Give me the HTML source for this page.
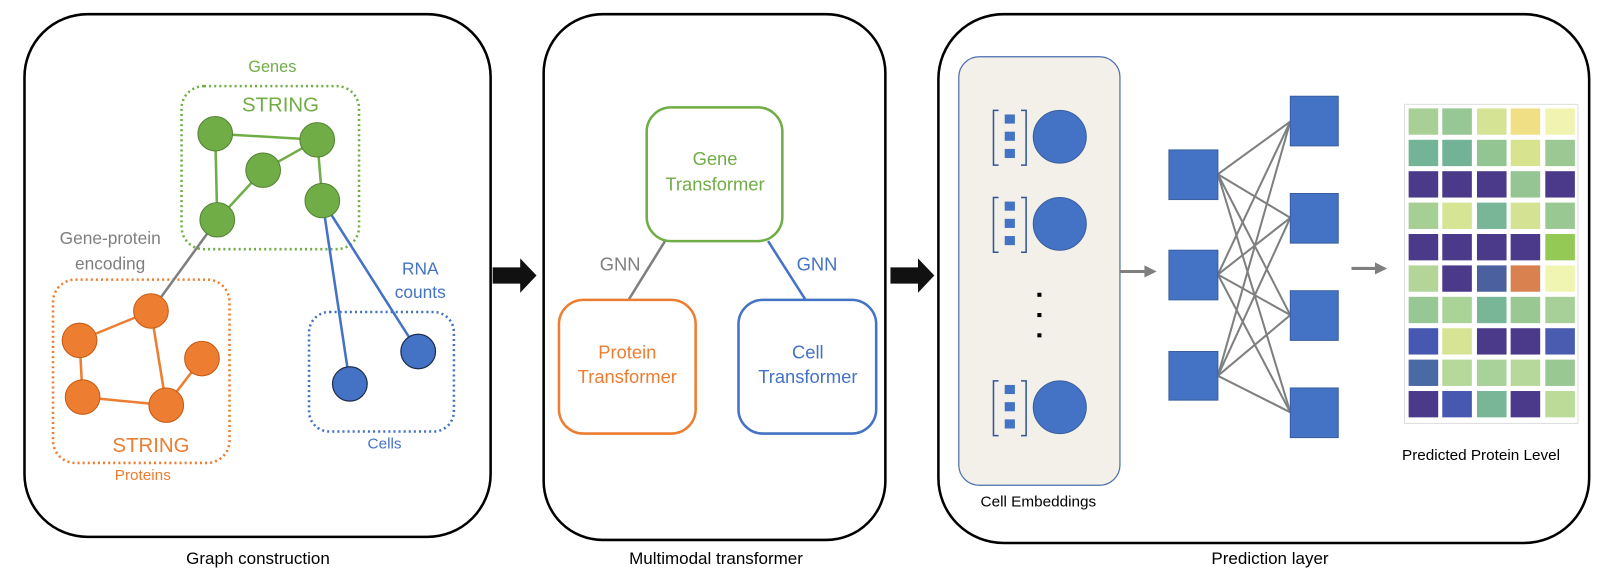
<!DOCTYPE html>
<html><head><meta charset="utf-8"><style>
html,body{margin:0;padding:0;background:#fff;}
svg{display:block;font-family:"Liberation Sans",Arial,sans-serif;}
</style></head><body>
<svg width="1600" height="568" viewBox="0 0 1600 568" xmlns="http://www.w3.org/2000/svg">
<g font-size="17" fill="#000" text-anchor="middle">
<text x="258" y="564">Graph construction</text>
<text x="716" y="564">Multimodal transformer</text>
<text x="1270" y="564">Prediction layer</text>
</g>
<g transform="scale(1.02,1.013)">
<!-- Panels -->
<rect x="24" y="14" width="457" height="516" rx="62" fill="none" stroke="#000" stroke-width="2.5"/>
<rect x="533" y="14" width="335" height="519" rx="58" fill="none" stroke="#000" stroke-width="2.5"/>
<rect x="920" y="14" width="638" height="522" rx="64" fill="none" stroke="#000" stroke-width="2.5"/>
<!-- black arrows -->
<polygon points="483,264 510,264 510,255 526,272 510,289 510,280 483,280" fill="#111"/>
<polygon points="873,264 900,264 900,255 916,272 900,289 900,280 873,280" fill="#111"/>

<!-- Panel 1 -->
<rect x="178" y="85" width="174" height="161" rx="22" fill="none" stroke="#70ad47" stroke-width="2.5" stroke-dasharray="2,3"/>
<rect x="52" y="276" width="173" height="181" rx="22" fill="none" stroke="#ed7d31" stroke-width="2.5" stroke-dasharray="2,3"/>
<rect x="303" y="308" width="142" height="118" rx="20" fill="none" stroke="#4472c4" stroke-width="2.5" stroke-dasharray="2,3"/>
<g stroke="#70ad47" stroke-width="2.5">
<line x1="211" y1="132" x2="311" y2="138"/><line x1="211" y1="132" x2="213" y2="217"/>
<line x1="213" y1="217" x2="258" y2="168"/><line x1="258" y1="168" x2="311" y2="138"/>
<line x1="311" y1="138" x2="316" y2="198"/>
</g>
<g stroke="#ed7d31" stroke-width="2.5">
<line x1="148" y1="307" x2="78" y2="336"/><line x1="78" y1="336" x2="81" y2="392"/>
<line x1="81" y1="392" x2="163" y2="400"/><line x1="148" y1="307" x2="163" y2="400"/>
<line x1="163" y1="400" x2="198" y2="354"/>
</g>
<line x1="213" y1="217" x2="148" y2="307" stroke="#7f7f7f" stroke-width="2.5"/>
<g stroke="#4472c4" stroke-width="2.5">
<line x1="316" y1="198" x2="343" y2="379"/><line x1="316" y1="198" x2="410" y2="347"/>
</g>
<g fill="#70ad47" stroke="#548235" stroke-width="1">
<circle cx="211" cy="132" r="17"/><circle cx="311" cy="138" r="17"/><circle cx="258" cy="168" r="17"/>
<circle cx="213" cy="217" r="17"/><circle cx="316" cy="198" r="17"/>
</g>
<g fill="#ed7d31" stroke="#c55a11" stroke-width="1">
<circle cx="148" cy="307" r="17"/><circle cx="78" cy="336" r="17"/><circle cx="198" cy="354" r="17"/>
<circle cx="81" cy="392" r="17"/><circle cx="163" cy="400" r="17"/>
</g>
<g fill="#4472c4" stroke="#1f2d4d" stroke-width="1.2">
<circle cx="343" cy="379" r="17"/><circle cx="410" cy="347" r="17"/>
</g>
<g text-anchor="middle">
<text x="267" y="71" font-size="16" fill="#70ad47">Genes</text>
<text x="275" y="110" font-size="20" fill="#70ad47">STRING</text>
<text x="108" y="241" font-size="17" fill="#7f7f7f">Gene-protein</text>
<text x="108" y="266" font-size="17" fill="#7f7f7f">encoding</text>
<text x="412" y="271" font-size="17" fill="#4472c4">RNA</text>
<text x="412" y="294" font-size="17" fill="#4472c4">counts</text>
<text x="148" y="446" font-size="20" fill="#ed7d31">STRING</text>
<text x="140" y="474" font-size="15" fill="#ed7d31">Proteins</text>
<text x="377" y="443" font-size="15" fill="#4472c4">Cells</text>
</g>

<!-- Panel 2 -->
<line x1="652" y1="238" x2="615" y2="298" stroke="#7f7f7f" stroke-width="2.5"/>
<line x1="753" y1="238" x2="791" y2="298" stroke="#4472c4" stroke-width="2.5"/>
<rect x="634" y="106" width="133" height="132" rx="24" fill="#fff" stroke="#70ad47" stroke-width="2.5"/>
<rect x="548" y="296" width="134" height="132" rx="24" fill="#fff" stroke="#ed7d31" stroke-width="2.5"/>
<rect x="724" y="296" width="135" height="132" rx="24" fill="#fff" stroke="#4472c4" stroke-width="2.5"/>
<g text-anchor="middle" font-size="18">
<text x="701" y="163" fill="#70ad47">Gene</text>
<text x="701" y="188" fill="#70ad47">Transformer</text>
<text x="615" y="354" fill="#ed7d31">Protein</text>
<text x="615" y="378" fill="#ed7d31">Transformer</text>
<text x="792" y="354" fill="#4472c4">Cell</text>
<text x="792" y="378" fill="#4472c4">Transformer</text>
<text x="608" y="267" fill="#7f7f7f">GNN</text>
<text x="801" y="267" fill="#4472c4">GNN</text>
</g>

<!-- Panel 3 -->
<rect x="940" y="56" width="158" height="423" rx="20" fill="#f3f0ea" stroke="#4a6fb0" stroke-width="1.2"/>
<g fill="#4472c4" stroke="#3a5f9f" stroke-width="1">
<circle cx="1039" cy="135" r="26"/><circle cx="1039" cy="221" r="26"/><circle cx="1039" cy="402" r="26"/>
</g>
<g fill="none" stroke="#2f5597" stroke-width="1.5">
<path d="M979,109 H974 V163 H979 M1001,109 H1006 V163 H1001"/>
<path d="M979,195 H974 V249 H979 M1001,195 H1006 V249 H1001"/>
<path d="M979,376 H974 V430 H979 M1001,376 H1006 V430 H1001"/>
</g>
<g fill="#4472c4">
<rect x="985" y="113" width="10" height="9"/><rect x="985" y="130" width="10" height="9"/><rect x="985" y="147" width="10" height="9"/>
<rect x="985" y="199" width="10" height="9"/><rect x="985" y="216" width="10" height="9"/><rect x="985" y="233" width="10" height="9"/>
<rect x="985" y="380" width="10" height="9"/><rect x="985" y="397" width="10" height="9"/><rect x="985" y="414" width="10" height="9"/>
</g>
<g fill="#000"><rect x="1017" y="289" width="4" height="4"/><rect x="1017" y="309" width="4" height="4"/><rect x="1017" y="329" width="4" height="4"/></g>
<text x="1018" y="500" font-size="15" text-anchor="middle" fill="#000">Cell Embeddings</text>
<line x1="1098" y1="268" x2="1124" y2="268" stroke="#7f7f7f" stroke-width="3"/>
<polygon points="1122,262 1134,268 1122,274" fill="#7f7f7f"/>
<g stroke="#7f7f7f" stroke-width="2">
<line x1="1194" y1="172" x2="1265" y2="120"/><line x1="1194" y1="172" x2="1265" y2="215"/><line x1="1194" y1="172" x2="1265" y2="311"/><line x1="1194" y1="172" x2="1265" y2="407"/>
<line x1="1194" y1="271" x2="1265" y2="120"/><line x1="1194" y1="271" x2="1265" y2="215"/><line x1="1194" y1="271" x2="1265" y2="311"/><line x1="1194" y1="271" x2="1265" y2="407"/>
<line x1="1194" y1="371" x2="1265" y2="120"/><line x1="1194" y1="371" x2="1265" y2="215"/><line x1="1194" y1="371" x2="1265" y2="311"/><line x1="1194" y1="371" x2="1265" y2="407"/>
</g>
<g fill="#4472c4" stroke="#3a5f9f" stroke-width="1">
<rect x="1146" y="148" width="48" height="49"/><rect x="1146" y="247" width="48" height="49"/><rect x="1146" y="347" width="48" height="48"/>
<rect x="1265" y="95" width="47" height="49"/><rect x="1265" y="191" width="47" height="49"/><rect x="1265" y="287" width="47" height="49"/><rect x="1265" y="383" width="47" height="49"/>
</g>
<line x1="1325" y1="265" x2="1350" y2="265" stroke="#7f7f7f" stroke-width="3"/>
<polygon points="1348,259 1360,265 1348,271" fill="#7f7f7f"/>
<!-- heatmap -->
<rect x="1377" y="103" width="170" height="315" fill="#fff" stroke="#ddd" stroke-width="1"/>
<g>
<rect x="1381" y="107" width="29" height="26" fill="#a8cf94"/><rect x="1414" y="107" width="29" height="26" fill="#97c794"/><rect x="1448" y="107" width="29" height="26" fill="#d4e394"/><rect x="1481" y="107" width="29" height="26" fill="#f1df85"/><rect x="1515" y="107" width="29" height="26" fill="#f0f4b0"/>
<rect x="1381" y="138" width="29" height="26" fill="#74b496"/><rect x="1414" y="138" width="29" height="26" fill="#72b297"/><rect x="1448" y="138" width="29" height="26" fill="#92c592"/><rect x="1481" y="138" width="29" height="26" fill="#d7e38f"/><rect x="1515" y="138" width="29" height="26" fill="#9bc893"/>
<rect x="1381" y="169" width="29" height="26" fill="#4b3a8a"/><rect x="1414" y="169" width="29" height="26" fill="#4b3a8a"/><rect x="1448" y="169" width="29" height="26" fill="#4b3a8a"/><rect x="1481" y="169" width="29" height="26" fill="#95c592"/><rect x="1515" y="169" width="29" height="26" fill="#4b3a8a"/>
<rect x="1381" y="200" width="29" height="26" fill="#a5cf93"/><rect x="1414" y="200" width="29" height="26" fill="#d6e594"/><rect x="1448" y="200" width="29" height="26" fill="#78b697"/><rect x="1481" y="200" width="29" height="26" fill="#d4e393"/><rect x="1515" y="200" width="29" height="26" fill="#9ac893"/>
<rect x="1381" y="231" width="29" height="26" fill="#4b3a8a"/><rect x="1414" y="231" width="29" height="26" fill="#4b3a8a"/><rect x="1448" y="231" width="29" height="26" fill="#4b3a8a"/><rect x="1481" y="231" width="29" height="26" fill="#4b3a8a"/><rect x="1515" y="231" width="29" height="26" fill="#93c954"/>
<rect x="1381" y="262" width="29" height="26" fill="#b3d698"/><rect x="1414" y="262" width="29" height="26" fill="#4b3a8a"/><rect x="1448" y="262" width="29" height="26" fill="#4b609e"/><rect x="1481" y="262" width="29" height="26" fill="#d98250"/><rect x="1515" y="262" width="29" height="26" fill="#f1f5b2"/>
<rect x="1381" y="293" width="29" height="26" fill="#96c794"/><rect x="1414" y="293" width="29" height="26" fill="#aad398"/><rect x="1448" y="293" width="29" height="26" fill="#78b697"/><rect x="1481" y="293" width="29" height="26" fill="#9ac893"/><rect x="1515" y="293" width="29" height="26" fill="#a6d098"/>
<rect x="1381" y="324" width="29" height="26" fill="#4658b0"/><rect x="1414" y="324" width="29" height="26" fill="#d7e494"/><rect x="1448" y="324" width="29" height="26" fill="#4b3a8a"/><rect x="1481" y="324" width="29" height="26" fill="#4b3a8a"/><rect x="1515" y="324" width="29" height="26" fill="#4a5cb0"/>
<rect x="1381" y="355" width="29" height="26" fill="#4a6aa3"/><rect x="1414" y="355" width="29" height="26" fill="#b6d89a"/><rect x="1448" y="355" width="29" height="26" fill="#a9d29a"/><rect x="1481" y="355" width="29" height="26" fill="#b6d89a"/><rect x="1515" y="355" width="29" height="26" fill="#9ac893"/>
<rect x="1381" y="386" width="29" height="26" fill="#4b3a8a"/><rect x="1414" y="386" width="29" height="26" fill="#4658b0"/><rect x="1448" y="386" width="29" height="26" fill="#78b697"/><rect x="1481" y="386" width="29" height="26" fill="#4b3a8a"/><rect x="1515" y="386" width="29" height="26" fill="#bcdb98"/>
</g>
<text x="1452" y="454" font-size="15" text-anchor="middle" fill="#000">Predicted Protein Level</text>
</g>
</svg>
</body></html>
